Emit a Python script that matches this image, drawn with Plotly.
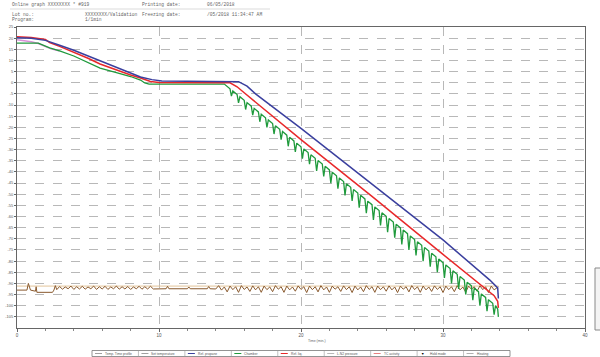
import plotly.graph_objects as go

# ---------------- data ----------------
blue_t = [0, 1, 2, 2.5, 3, 4, 5, 6, 7, 8, 8.7, 9.5, 10.2, 15.6, 16.2, 16.8, 20, 25, 30, 33.3, 33.85, 33.9]
blue_v = [20.2, 20.0, 19.0, 18.0, 16.8, 14.6, 12.0, 9.3, 6.7, 4.2, 2.6, 1.4, 0.8, 0.5, -1.5, -5.0, -20.5, -45.5, -70.5, -88.5, -92.0, -96.8]

red_t = [0, 1, 2, 2.3, 3, 4, 5, 5.85, 7, 8, 8.7, 9.4, 10.0, 15.0, 15.5, 16.0, 20, 25, 30, 33.6, 33.85, 33.9]
red_v = [20.6, 20.3, 19.4, 18.0, 16.3, 13.8, 11.0, 8.4, 5.6, 3.5, 2.1, 0.6, 0.1, 0.0, -1.8, -4.5, -25.5, -51.0, -77.0, -95.5, -98.0, -101.0]

pink_t = [0, 0.5, 1, 1.5, 2.0, 2.4, 3.0]
pink_v = [19.3, 19.0, 18.4, 17.6, 16.3, 15.2, 14.2]

green_t = [0, 1.5, 2.3, 3, 4, 5, 5.85, 7, 8, 8.7, 9.0, 9.3, 14.6,
           15.0, 15.1, 15.2, 15.5, 15.6, 15.7, 16.0, 16.1, 16.2, 16.5, 16.6, 16.7,
           17.0, 17.1, 17.2, 17.5, 17.6, 17.7, 18.0, 18.1, 18.2, 18.5, 18.6, 18.7,
           19.0, 19.1, 19.2, 19.5, 19.6, 19.7, 20.0, 20.1, 20.2, 20.5, 20.6, 20.7,
           21.0, 21.1, 21.2, 21.5, 21.6, 21.7, 22.0, 22.1, 22.2, 22.5, 22.6, 22.7,
           23.0, 23.1, 23.2, 23.5, 23.6, 23.7, 24.0, 24.1, 24.2, 24.5, 24.6, 24.7,
           25.0, 25.1, 25.2, 25.5, 25.6, 25.7, 26.0, 26.1, 26.2, 26.5, 26.6, 26.7,
           27.0, 27.1, 27.2, 27.5, 27.6, 27.7, 28.0, 28.1, 28.2, 28.5, 28.6, 28.7,
           29.0, 29.1, 29.2, 29.5, 29.6, 29.7, 30.0, 30.1, 30.2, 30.5, 30.6, 30.7,
           31.0, 31.1, 31.2, 31.5, 31.6, 31.7, 32.0, 32.1, 32.2, 32.5, 32.6, 32.7,
           33.0, 33.1, 33.2, 33.5, 33.6, 33.7, 33.85, 33.9]
green_v = [17.8, 17.8, 15.6, 14.3, 12.0, 9.0, 6.6, 4.5, 2.8, 1.2, -0.1, -0.6, -0.6,
           -2.7, -6.0, -3.7, -5.3, -9.0, -6.3, -7.9, -12.0, -8.9, -10.5, -14.5, -11.5,
           -13.1, -17.5, -14.1, -15.7, -20.0, -16.7, -18.3, -23.0, -19.3, -20.9, -25.5, -21.9,
           -23.5, -28.5, -24.5, -26.1, -31.0, -27.1, -28.7, -34.0, -29.7, -31.3, -36.5, -32.3,
           -33.9, -39.5, -34.9, -36.5, -42.0, -37.5, -39.1, -45.0, -40.1, -41.7, -47.5, -42.7,
           -44.3, -50.5, -45.3, -46.9, -53.0, -47.9, -49.5, -56.0, -50.5, -52.1, -58.5, -53.1,
           -54.7, -61.5, -55.7, -57.3, -64.0, -58.3, -59.9, -67.0, -60.9, -62.5, -69.5, -63.5,
           -65.1, -72.5, -66.1, -67.7, -75.0, -68.7, -70.3, -77.5, -71.3, -72.9, -80.0, -73.9,
           -75.5, -82.5, -76.5, -78.1, -85.0, -79.1, -80.7, -87.5, -81.7, -83.3, -90.0, -84.3,
           -85.9, -92.5, -86.9, -88.5, -95.0, -89.5, -91.1, -97.5, -92.1, -93.7, -100.0, -94.7,
           -96.3, -102.5, -97.3, -98.9, -104.0, -99.9, -101.5, -105.0]

tan_t = [0, 33.9]
tan_v = [-91.2, -91.2]

brown_t = [0, 0.7, 0.8, 0.95, 1.3, 1.35, 1.4, 2.5, 2.6, 2.7, 2.8,
           3.0, 3.2, 3.4, 3.6, 3.8, 4.0, 4.2, 4.4, 4.6, 4.8, 5.0, 5.2, 5.4, 5.6, 5.8,
           6.0, 6.2, 6.4, 6.6, 6.8, 7.0, 7.2, 7.4, 7.6, 7.8, 8.0, 8.2, 8.4, 8.6, 8.8,
           9.0, 9.2, 9.4, 9.6, 10.5, 10.6, 10.7, 12.0, 12.1, 12.2, 13.4, 13.5, 13.6, 14.0,
           14.2, 14.4, 14.6, 14.8, 15.0, 15.2, 15.4, 15.6, 15.8, 16.0, 16.2, 16.4, 16.6, 16.8,
           17.0, 17.2, 17.4, 17.6, 17.8, 18.0, 18.2, 18.4, 18.6, 18.8, 19.0, 19.2, 19.4, 19.6,
           19.8, 20.0, 20.2, 20.4, 20.6, 20.8, 21.0, 21.2, 21.4, 21.6, 21.8, 22.0, 22.2, 22.4,
           22.6, 22.8, 23.0, 23.2, 23.4, 23.6, 23.8, 24.0, 24.2, 24.4, 24.6, 24.8, 25.0, 25.2,
           25.4, 25.6, 25.8, 26.0, 26.2, 26.4, 26.6, 26.8, 27.0, 27.2, 27.4, 27.6, 27.8, 28.0,
           28.2, 28.4, 28.6, 28.8, 29.0, 29.2, 29.4, 29.6, 29.8, 30.0, 30.2, 30.4, 30.6, 30.8,
           31.0, 31.2, 31.4, 31.6, 31.8, 32.0, 32.2, 32.4, 32.6, 32.8, 33.0, 33.2, 33.4, 33.6,
           33.8, 33.9]
brown_v = [-93.0, -93.0, -90.0, -93.0, -93.5, -91.5, -94.0, -94.0, -93.0, -91.0, -92.8,
           -91.4, -92.6, -91.6, -92.4, -91.2, -92.7, -91.5, -92.5, -91.3, -92.6, -91.6, -92.4, -91.2, -92.7, -91.5,
           -92.5, -91.3, -92.7, -91.6, -92.4, -91.2, -92.6, -91.5, -92.5, -91.4, -92.7, -91.6, -92.4, -91.3, -92.6,
           -91.5, -92.5, -91.3, -92.5, -92.4, -91.3, -92.4, -92.4, -91.6, -92.4, -92.4, -91.4, -92.4, -92.5,
           -91.0, -93.0, -91.6, -93.8, -91.2, -92.8, -91.5, -94.0, -91.0, -92.7, -91.6, -93.6, -91.1, -92.9,
           -91.5, -94.0, -91.2, -92.8, -91.6, -93.7, -91.0, -92.6, -91.5, -94.0, -91.2, -92.9, -91.6, -93.5,
           -91.1, -92.7, -91.5, -94.1, -91.2, -92.8, -91.5, -93.8, -91.0, -92.9, -91.6, -94.0, -91.2, -92.6,
           -91.5, -93.6, -91.1, -92.8, -91.5, -94.1, -91.2, -92.9, -91.6, -93.7, -91.0, -92.7, -91.5, -94.0,
           -91.2, -92.8, -91.5, -93.5, -91.1, -92.9, -91.6, -94.1, -91.2, -92.6, -91.5, -93.8, -91.0, -92.8,
           -91.5, -94.0, -91.2, -92.9, -91.6, -93.6, -91.1, -92.7, -91.5, -94.1, -91.2, -92.8, -91.5, -93.7,
           -91.0, -92.9, -91.6, -94.0, -91.2, -92.6, -91.5, -93.5, -91.1, -92.8, -91.5, -94.1, -91.2, -92.9,
           -92.0, -91.5]

x_tickvals = [0, 10, 20, 30, 40]
x_ticktext = ["0", "10", "20", "30", "40"]
y_tickvals = [25, 20, 15, 10, 5, 0, -5, -10, -15, -20, -25, -30, -35, -40, -45, -50, -55, -60,
              -65, -70, -75, -80, -85, -90, -95, -100, -105]
y_ticktext = [str(v) for v in y_tickvals]

legend_names = ["Temp. Time profile", "Set temperature", "Ref. propane", "Chamber", "Ref. liq.",
                "L.N2 pressure", "TC activity", "Hold mode", "Heating"]
legend_colors = ["#a0a0a0", "#a0a0a0", "#3a3f9e", "#1f9a3c", "#e8282a", "#b8b8b8", "#e88080", "#000000", "#b0b0b0"]

header_rows = [
    ["Online graph XXXXXXXX * #919", "", "Printing date:", "06/05/2018"],
    ["Lot no.:", "XXXXXXXX/Validation", "Freezing date:", "/05/2018 11:34:47 AM"],
    ["Program:", "1/1min", "", ""],
]

# ---------------- figure ----------------
W, H = 600, 357
L, R, T, B = 17, 15, 27, 29
PW, PH = W - L - R, H - T - B


def px(x):
    return (x - L) / PW


def py(y):
    return (H - B - y) / PH


fig = go.Figure()
fig.add_trace(go.Scatter(x=tan_t, y=tan_v, mode="lines", line=dict(color="#e3c49a", width=1), name="Set temperature"))
fig.add_trace(go.Scatter(x=brown_t, y=brown_v, mode="lines", line=dict(color="#8a5a2e", width=1), name="L.N2 pressure"))
fig.add_trace(go.Scatter(x=pink_t, y=pink_v, mode="lines", line=dict(color="#d890d8", width=1.5), name="TC activity"))
fig.add_trace(go.Scatter(x=green_t, y=green_v, mode="lines", line=dict(color="#1f9a3c", width=1.3), name="Chamber"))
fig.add_trace(go.Scatter(x=red_t, y=red_v, mode="lines", line=dict(color="#e8282a", width=1.5), name="Ref. liq."))
fig.add_trace(go.Scatter(x=blue_t, y=blue_v, mode="lines", line=dict(color="#3a3f9e", width=1.5), name="Ref. propane"))

annotations = []
shapes = []

# header
col_x = [10, 83, 140, 205]
row_y = [5, 14.5, 19.5]
for r, row in enumerate(header_rows):
    for c, txt in enumerate(row):
        if txt:
            annotations.append(dict(text=txt, x=px(col_x[c]), y=py(row_y[r]), xref="paper", yref="paper",
                                    xanchor="left", yanchor="middle", showarrow=False,
                                    font=dict(family="Liberation Mono", size=4.6, color="#666")))
shapes.append(dict(type="line", xref="paper", yref="paper", x0=px(10), x1=px(270), y0=py(9), y1=py(9),
                   line=dict(color="#cccccc", width=0.7)))

# x-axis title
annotations.append(dict(text="Time (min.)", x=px(306), y=py(341), xref="paper", yref="paper",
                        xanchor="left", yanchor="middle", showarrow=False,
                        font=dict(family="Liberation Sans", size=3.5, color="#666")))

# manual legend table
lx0, lx1, ly0, ly1 = 92, 510, 350.5, 356.5
shapes.append(dict(type="rect", xref="paper", yref="paper", x0=px(lx0), x1=px(lx1), y0=py(ly0), y1=py(ly1),
                   line=dict(color="#777", width=0.8)))
cw = (lx1 - lx0) / len(legend_names)
for i, (nm, col) in enumerate(zip(legend_names, legend_colors)):
    cx = lx0 + i * cw
    if i > 0:
        shapes.append(dict(type="line", xref="paper", yref="paper", x0=px(cx), x1=px(cx), y0=py(ly0), y1=py(ly1),
                           line=dict(color="#999", width=0.6)))
    ym = (ly0 + ly1) / 2
    if nm == "Hold mode":
        annotations.append(dict(text="▼", x=px(cx + 5), y=py(ym), xref="paper", yref="paper",
                                xanchor="center", yanchor="middle", showarrow=False, borderpad=0,
                                font=dict(size=3.5, color=col)))
    else:
        shapes.append(dict(type="line", xref="paper", yref="paper", x0=px(cx + 3), x1=px(cx + 10),
                           y0=py(ym), y1=py(ym), line=dict(color=col, width=1)))
    annotations.append(dict(text=nm, x=px(cx + 12), y=py(ym), xref="paper", yref="paper",
                            xanchor="left", yanchor="middle", showarrow=False, borderpad=0,
                            font=dict(family="Liberation Sans", size=3.3, color="#555")))

# partial box at right edge
shapes.append(dict(type="rect", xref="paper", yref="paper", x0=px(595), x1=px(603), y0=py(268), y1=py(330),
                   line=dict(color="#888", width=1), fillcolor="#f4f4f4"))

fig.update_layout(
    width=W, height=H,
    margin=dict(l=L, r=R, t=T, b=B, autoexpand=False),
    paper_bgcolor="white", plot_bgcolor="white",
    showlegend=False,
    annotations=annotations, shapes=shapes,
    font=dict(family="Liberation Sans", size=4, color="#555"),
)
fig.update_xaxes(range=[0, 40], tickvals=x_tickvals, ticktext=x_ticktext, automargin=False,
                 showline=True, linecolor="#666", linewidth=1, mirror=True,
                 ticks="outside", ticklen=3, tickcolor="#666",
                 showgrid=True, gridcolor="#b8b8b8", griddash="dash", gridwidth=0.8,
                 zeroline=False, tickfont=dict(size=4.5, color="#555"),
                 minor=dict(dtick=2, ticks="outside", ticklen=2, tickcolor="#888", showgrid=False))
fig.update_yaxes(range=[-110, 25], tickvals=y_tickvals, ticktext=y_ticktext, automargin=False,
                 showline=True, linecolor="#666", linewidth=1, mirror=True,
                 ticks="outside", ticklen=2, tickcolor="#666",
                 showgrid=True, gridcolor="#b8b8b8", griddash="dash", gridwidth=0.8,
                 zeroline=False, tickfont=dict(size=4, color="#555"))

fig.write_html("out.html", config={"displayModeBar": False},
               post_script="document.body.style.margin='0';document.body.style.overflow='hidden';")
